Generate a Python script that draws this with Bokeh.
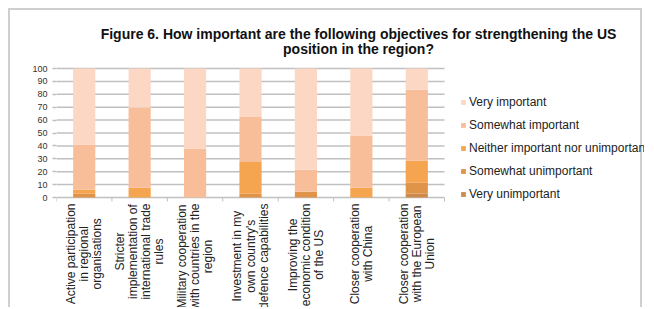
import math
from bokeh.plotting import figure
from bokeh.models import Range1d, FixedTicker, Legend, LegendItem, ColumnDataSource
from bokeh.core.properties import value
from bokeh.embed import file_html
from bokeh.resources import INLINE

categories = [
    "Active participation\nin regional\norganisations",
    "Stricter\nimplementation of\ninternational trade\nrules",
    "Military cooperation\nwith countries in the\nregion",
    "Investment in my\nown country's\ndefence capabilities",
    "Improving the\neconomic condition\nof the US",
    "Closer cooperation\nwith China",
    "Closer cooperation\nwith the European\nUnion",
]
series_names = ["Very unimportant", "Somewhat unimportant",
                "Neither important nor unimportant", "Somewhat important", "Very important"]
very_unimportant = [0, 0, 0, 0, 0, 0, 3]
somewhat_unimportant = [3, 0, 0, 3, 4.5, 0, 8.5]
neither = [3, 7.5, 0, 24.5, 0, 7.5, 17]
somewhat_important = [35, 62, 38, 35, 17, 40.5, 55]
very_important = [59, 30.5, 62, 37.5, 78.5, 52, 16.5]
y_ticks = [0, 10, 20, 30, 40, 50, 60, 70, 80, 90, 100]
title_lines = ["Figure 6. How important are the following objectives for strengthening the US",
               "position in the region?"]

colors = ["#cd8a4c", "#e0944a", "#f5a54f", "#f8be99", "#fbd7c4"]
keys = ["vu", "su", "n", "si", "vi"]
GRID = "#c0c0c0"

n = len(categories)
src = ColumnDataSource(dict(
    x=[i + 0.5 for i in range(n)],
    vu=very_unimportant, su=somewhat_unimportant, n=neither,
    si=somewhat_important, vi=very_important,
))

# layout (page px): frame left 56, plot baseline y=197, 100 at y=68
W, H = 634, 299
LEFT = 46
ppx = 55.43          # px per category
ppy = 1.29           # px per percent
base_y = 197 - 10    # canvas y of 0
x_span = (W - LEFT) / ppx
y_top = base_y / ppy
y_bot = -(H - base_y) / ppy

p = figure(width=W, height=H, output_backend="svg", toolbar_location=None,
           x_range=Range1d(0, x_span), y_range=Range1d(y_bot, y_top),
           min_border_left=LEFT, min_border_right=0, min_border_top=0, min_border_bottom=0)
p.styles = {"margin": "8px 0 0 8px",
            "border-top": "2px solid #cfcfcf", "border-left": "2px solid #cfcfcf",
            "border-right": "2px solid #cfcfcf"}
p.outline_line_color = None
p.background_fill_color = "white"
p.border_fill_color = "white"
p.xaxis.visible = False
p.xgrid.visible = False
p.ygrid.visible = False

# y axis
p.yaxis.ticker = FixedTicker(ticks=y_ticks)
p.yaxis.axis_line_color = None
p.yaxis.major_tick_line_color = GRID
p.yaxis.major_tick_line_width = 1.5
p.yaxis.major_tick_out = 4
p.yaxis.major_tick_in = 0
p.yaxis.minor_tick_line_color = None
p.yaxis.major_label_text_font = "Liberation Sans"
p.yaxis.major_label_text_font_size = "9px"
p.yaxis.major_label_text_color = "#333333"
p.yaxis.major_label_standoff = 5

# gridlines over the category area
p.segment(x0=[0] * len(y_ticks), x1=[n] * len(y_ticks), y0=y_ticks, y1=y_ticks,
          line_color=GRID, line_width=1.5)
# category boundary ticks below baseline
bounds = list(range(n + 1))
p.segment(x0=bounds, x1=bounds, y0=[0] * len(bounds), y1=[-4 / ppy] * len(bounds),
          line_color=GRID, line_width=1)

renderers = p.vbar_stack(keys, x="x", width=0.4, color=colors, line_color=None, source=src)

# category labels: rotated, lines centered
AW = {' ': 278, "'": 191, 'a': 556, 'b': 556, 'c': 500, 'd': 556, 'e': 556, 'f': 278, 'g': 556,
      'h': 556, 'i': 222, 'j': 222, 'k': 500, 'l': 222, 'm': 833, 'n': 556, 'o': 556, 'p': 556,
      'q': 556, 'r': 333, 's': 500, 't': 278, 'u': 556, 'v': 500, 'w': 722, 'x': 500, 'y': 500,
      'z': 500, 'A': 667, 'C': 722, 'E': 667, 'I': 278, 'M': 833, 'S': 667, 'U': 722}
fs = 12
lx, ly, lt, lo = [], [], [], []
for i, cat in enumerate(categories):
    lines = cat.split("\n")
    M = max(sum(AW.get(c, 556) for c in ln) for ln in lines) / 1000.0 * fs
    yc = -6 / ppy - (M / 2) / ppy
    for j, ln in enumerate(lines):
        lx.append(i + 0.5)
        ly.append(yc)
        lt.append(ln)
        lo.append((j - (len(lines) - 1) / 2) * 13.2)
p.text(x=lx, y=ly, text=lt, x_offset=lo, angle=math.pi / 2,
       text_align="center", text_baseline="middle",
       text_font=value("Liberation Sans"), text_font_size=f"{fs}px", text_color="#222222")

# title
p.text(x=[(358 - 56) / ppx] * 2, y=[(197 - 33) / ppy, (197 - 48.5) / ppy], text=title_lines,
       text_align="center", text_baseline="middle",
       text_font=value("Liberation Sans"), text_font_style="bold",
       text_font_size="14px", text_color="#111111")

items = [LegendItem(label=series_names[k], renderers=[renderers[k]]) for k in range(4, -1, -1)]
legend = Legend(items=items, location=(404, 309 - 204), orientation="vertical",
                glyph_width=6, glyph_height=6, label_height=20, spacing=3,
                label_standoff=3, padding=0, margin=0, border_line_color=None,
                background_fill_alpha=0, label_text_font="Liberation Sans",
                label_text_font_size="12px", label_text_color="#222222")
p.add_layout(legend, "center")

open("out.html", "w").write(file_html(p, INLINE))
